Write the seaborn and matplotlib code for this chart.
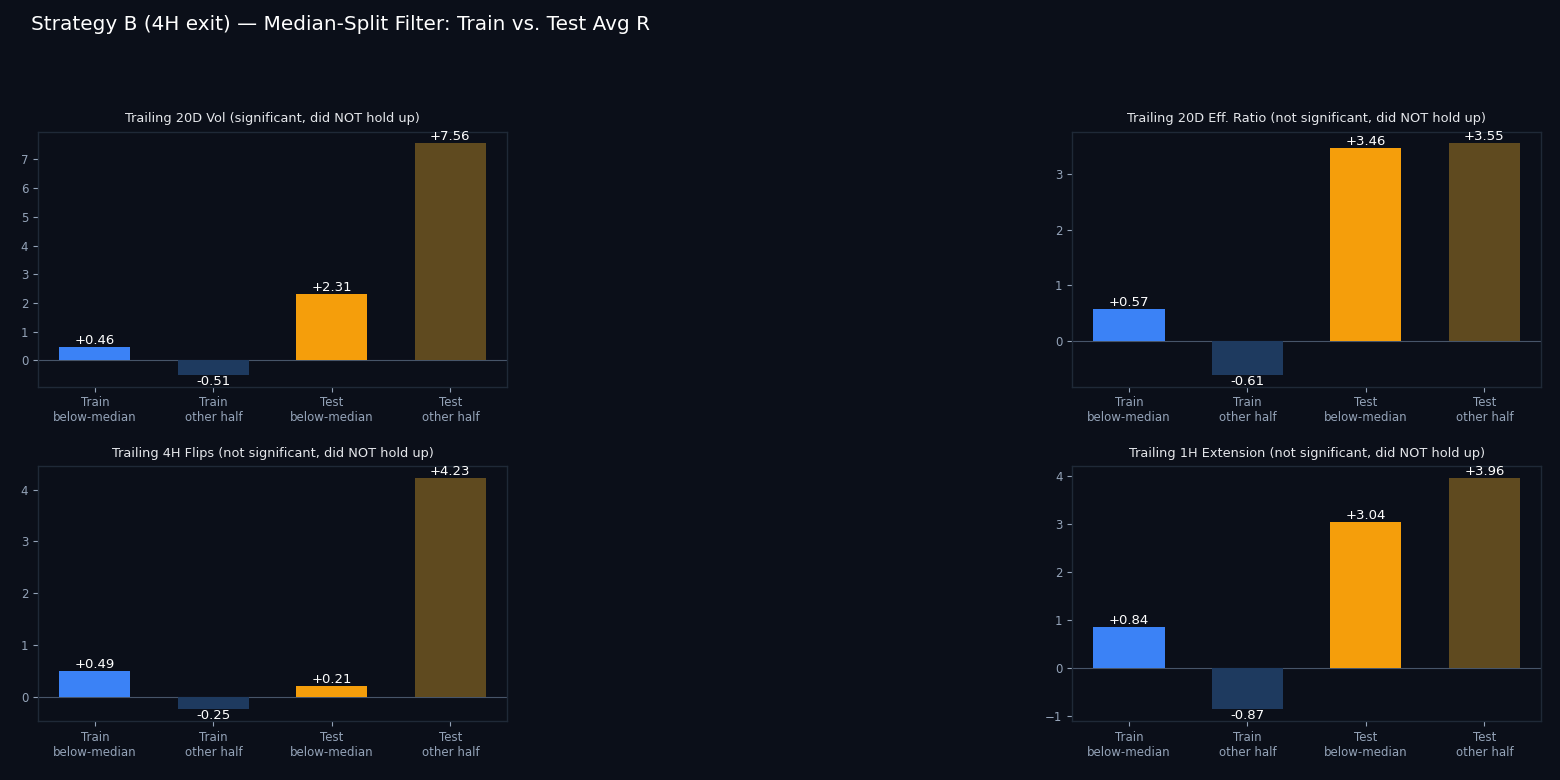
"""Strategy B (4H exit): median-split filter, train vs. test average R."""

import matplotlib

matplotlib.use("Agg")
import matplotlib.pyplot as plt
import pandas as pd
import seaborn as sns

BG = "#0b0f19"
SPINE = "#1f2937"
TICK = "#94a3b8"
ZERO = "#475569"

GROUPS = ["Train\nbelow-median", "Train\nother half", "Test\nbelow-median", "Test\nother half"]
BAR_COLORS = ["#3b82f6", "#1e3a5f", "#f59e0b", "#5f4a1f"]

PANEL_TITLES = [
    "Trailing 20D Vol (significant, did NOT hold up)",
    "Trailing 20D Eff. Ratio (not significant, did NOT hold up)",
    "Trailing 4H Flips (not significant, did NOT hold up)",
    "Trailing 1H Extension (not significant, did NOT hold up)",
]
VOL_20D = [0.46, -0.51, 2.31, 7.56]
EFF_RATIO_20D = [0.57, -0.61, 3.46, 3.55]
FLIPS_4H = [0.49, -0.25, 0.21, 4.23]
EXTENSION_1H = [0.84, -0.87, 3.04, 3.96]
PANEL_VALUES = [VOL_20D, EFF_RATIO_20D, FLIPS_4H, EXTENSION_1H]


def draw_panel(ax, title, values):
    df = pd.DataFrame({"group": GROUPS, "avg_r": values})
    sns.barplot(
        data=df, x="group", y="avg_r", hue="group", palette=BAR_COLORS,
        width=0.6, legend=False, saturation=1, linewidth=0, edgecolor="none", ax=ax,
    )
    ax.set_xlim(-0.48, 3.48)
    ax.axhline(0, color=ZERO, lw=0.8, zorder=0.5)
    for i, v in enumerate(values):
        ax.text(i, v, f"{v:+.2f}", ha="center", va="bottom" if v >= 0 else "top",
                color="white", fontsize=9.5)
    ax.set_title(title, color="#e5e7eb", fontsize=9.3, pad=7)
    ax.set_xlabel("")
    ax.set_ylabel("")
    ax.set_facecolor(BG)
    ax.tick_params(colors=TICK, labelsize=8.5, length=3.5, width=0.8, pad=3.5,
                   bottom=True, left=True)
    for s in ax.spines.values():
        s.set_color(SPINE)
        s.set_linewidth(1)


def main() -> None:
    sns.set_style("dark", {"axes.facecolor": BG, "figure.facecolor": BG})
    plt.rcParams["font.family"] = ["DejaVu Sans"]

    fig, axes = plt.subplots(2, 2, figsize=(15.6, 7.8), dpi=100)
    fig.patch.set_facecolor(BG)
    fig.subplots_adjust(left=0.0244, right=0.988, top=0.831, bottom=0.0756,
                        wspace=1.204, hspace=0.313)

    for ax, title, values in zip(axes.flat, PANEL_TITLES, PANEL_VALUES):
        draw_panel(ax, title, values)

    fig.text(0.02, 0.969, "Strategy B (4H exit) \u2014 Median-Split Filter: Train vs. Test Avg R",
             color="white", fontsize=14.45, ha="left", va="center")

    fig.savefig("out.png", dpi=100, facecolor=BG)
    plt.close(fig)


if __name__ == "__main__":
    main()
